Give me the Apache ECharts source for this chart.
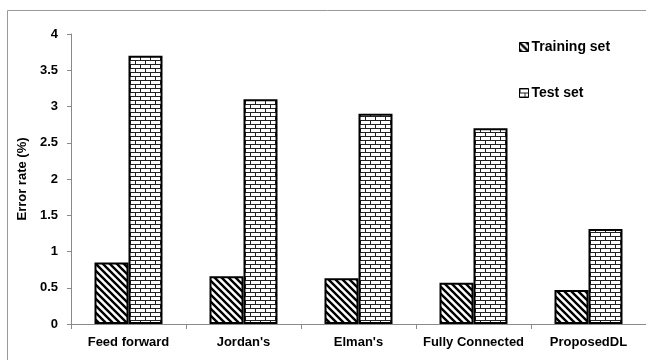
<!DOCTYPE html>
<html>
<head>
<meta charset="utf-8">
<script src="https://cdn.jsdelivr.net/npm/echarts@6/dist/echarts.min.js"></script>
<style>
  html, body { margin: 0; padding: 0; background: #fff; }
  #chart { width: 646px; height: 360px; }
</style>
</head>
<body>
<div id="chart"></div>
<script>
// Model names along the x axis
const categories = ['Feed forward', "Jordan's", "Elman's", 'Fully Connected', 'ProposedDL'];
// Error rates (%) per model
const trainingSet = [0.85, 0.66, 0.63, 0.57, 0.47];
const testSet = [3.70, 3.10, 2.90, 2.70, 1.31];
// Y axis ticks
const yTicks = [0, 0.5, 1, 1.5, 2, 2.5, 3, 3.5, 4];

// Diagonal hatch fill for the training bars
function stripePattern() {
  const c = document.createElement('canvas');
  const s = 7;
  c.width = s; c.height = s;
  const g = c.getContext('2d');
  g.fillStyle = '#fff';
  g.fillRect(0, 0, s, s);
  g.strokeStyle = '#000';
  g.lineWidth = 2.4;
  g.beginPath();
  g.moveTo(-1, -1); g.lineTo(s + 1, s + 1);
  g.moveTo(-1, s - 1); g.lineTo(1, s + 1);
  g.moveTo(s - 1, -1); g.lineTo(s + 1, 1);
  g.stroke();
  return c;
}

// Brick fill for the test bars
function brickPattern() {
  const c = document.createElement('canvas');
  const w = 10, h = 8;
  c.width = w; c.height = h;
  const g = c.getContext('2d');
  g.fillStyle = '#fff';
  g.fillRect(0, 0, w, h);
  g.fillStyle = '#222';
  g.fillRect(0, 0, w, 1);
  g.fillRect(0, 4, w, 1);
  g.fillRect(0, 0, 1, 4);
  g.fillRect(5, 4, 1, 4);
  return c;
}

const stripe = { image: stripePattern(), repeat: 'repeat' };
const brick = { image: brickPattern(), repeat: 'repeat' };

const chart = echarts.init(document.getElementById('chart'), null, { renderer: 'canvas' });

const font = '"Liberation Sans", Arial, sans-serif';

chart.setOption({
  backgroundColor: '#fff',
  animation: false,
  textStyle: { fontFamily: font, color: '#000' },
  grid: { left: 71, top: 34, width: 582, height: 290, containLabel: false },
  legend: {
    orient: 'vertical',
    left: 514,
    top: 35,
    itemWidth: 9,
    itemHeight: 9,
    itemGap: 32,
    icon: 'rect',
    itemStyle: { borderColor: '#000', borderWidth: 1 },
    textStyle: { fontFamily: font, fontWeight: 'bold', fontSize: 14, color: '#000', padding: [0, 0, 0, -2] },
    data: ['Training set', 'Test set']
  },
  xAxis: {
    type: 'category',
    data: categories,
    axisLine: { lineStyle: { color: '#8a8a8a', width: 1 } },
    axisTick: { show: true, length: 5, lineStyle: { color: '#8a8a8a' } },
    axisLabel: { fontFamily: font, fontWeight: 'bold', fontSize: 13, color: '#000', margin: 12, interval: 0 }
  },
  yAxis: {
    type: 'value',
    min: yTicks[0],
    max: yTicks[yTicks.length - 1],
    interval: 0.5,
    name: 'Error rate (%)',
    nameLocation: 'middle',
    nameRotate: 90,
    nameGap: 35,
    nameTextStyle: { fontFamily: font, fontWeight: 'bold', fontSize: 13, color: '#000' },
    splitLine: { show: false },
    axisLine: { show: true, lineStyle: { color: '#8a8a8a', width: 1 } },
    axisTick: { show: true, length: 4, lineStyle: { color: '#8a8a8a' } },
    axisLabel: { fontFamily: font, fontWeight: 'bold', fontSize: 13, color: '#000', margin: 13 }
  },
  series: [
    {
      name: 'Training set',
      type: 'bar',
      data: trainingSet,
      barWidth: 34,
      barGap: '0%',
      itemStyle: { color: stripe, borderColor: '#000', borderWidth: 2 }
    },
    {
      name: 'Test set',
      type: 'bar',
      data: testSet,
      barWidth: 34,
      itemStyle: { color: brick, borderColor: '#000', borderWidth: 2 }
    }
  ],
  graphic: [
    {
      type: 'rect',
      silent: true,
      shape: { x: 7.5, y: 10.5, width: 700, height: 400 },
      style: { fill: 'none', stroke: '#9a9a9a', lineWidth: 1 }
    }
  ]
});
</script>
</body>
</html>
